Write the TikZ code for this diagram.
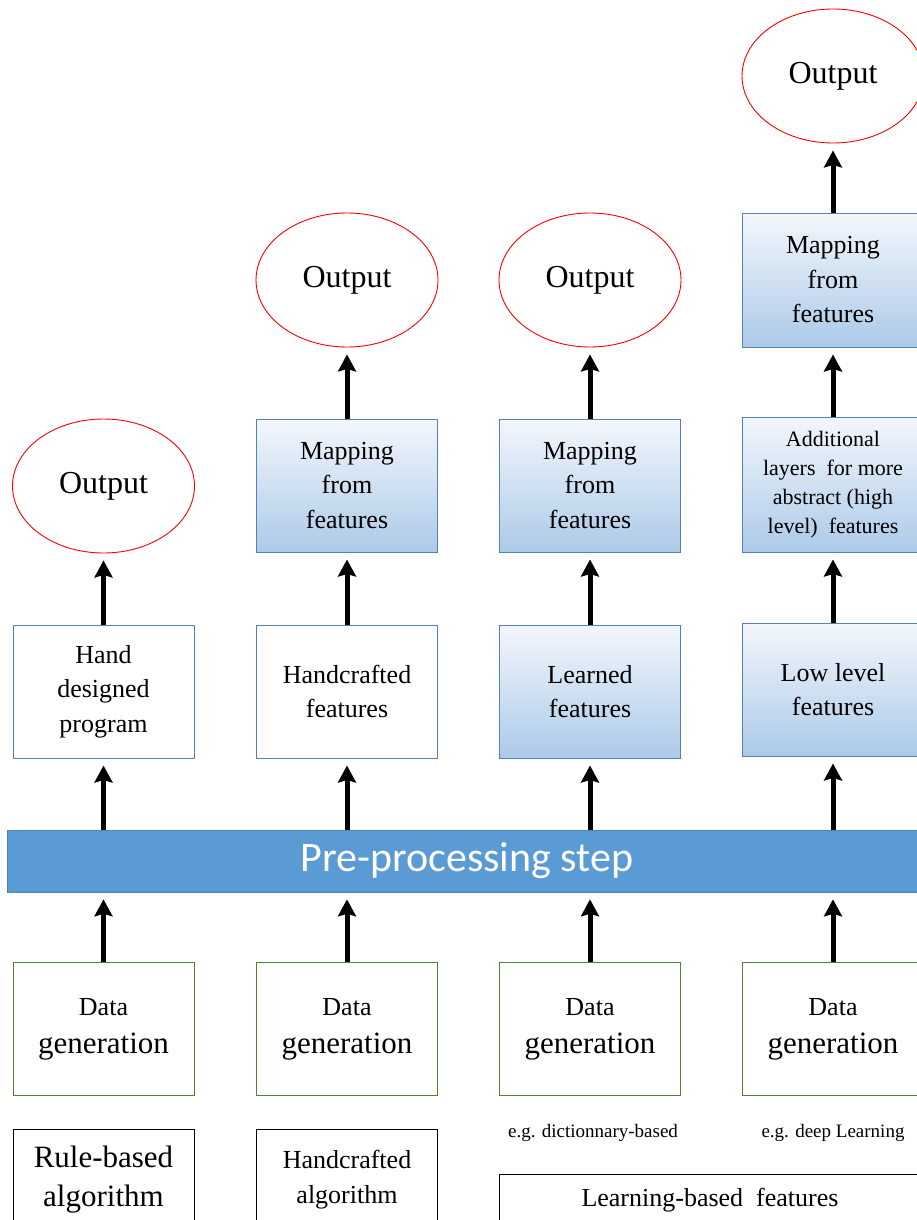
\documentclass[tikz,border=0pt]{standalone}
\usepackage{fontspec}
\setmainfont{Liberation Serif}
\newfontfamily\calibri{Carlito}
\usepackage{tikz}
\usetikzlibrary{arrows,arrows.meta,shapes}
\definecolor{boxblue}{RGB}{84,128,185}
\definecolor{gradtop}{RGB}{243,247,252}
\definecolor{gradbot}{RGB}{172,202,232}
\definecolor{datagreen}{RGB}{84,130,53}
\definecolor{barblue}{RGB}{91,155,213}
\begin{document}
\begin{tikzpicture}[x=1pt,y=-1pt,->,>={Stealth[length=17pt,width=18pt,inset=2.5pt]},
shorten >=7pt,every edge/.append style={line width=5pt}]
\tikzstyle{outell}=[ellipse,draw=red,line width=0.9pt,fill=white,minimum width=182pt,
minimum height=134pt,inner sep=0pt,font=\fontsize{32}{37}\selectfont]
\tikzstyle{plainbox}=[rectangle,draw=boxblue,line width=1pt,fill=white,minimum width=181pt,
minimum height=133pt,inner sep=0pt,align=center,font=\fontsize{26}{34.5}\selectfont]
\tikzstyle{gradbox}=[plainbox,top color=gradtop,bottom color=gradbot]
\tikzstyle{databox}=[plainbox,draw=datagreen,font=\fontsize{26}{38}\selectfont]
\tikzstyle{algobox}=[rectangle,draw=black,line width=1pt,minimum width=181pt,
minimum height=101pt,inner sep=0pt,align=center]
\path[use as bounding box,clip] (0,0) rectangle (917,1220);
% outputs
\node[outell] (o1) at (103.5,486) {Output};
\node[outell] (o2) at (347,280) {Output};
\node[outell] (o3) at (590,280) {Output};
\node[outell] (o4) at (833,76) {Output};
% features and mappings
\node[plainbox] (p1) at (103.5,691.5) {Hand\\designed\\program};
\node[plainbox] (f2) at (347,691.5) {Handcrafted\\features};
\node[gradbox] (f3) at (590,691.5) {Learned\\features};
\node[gradbox] (f4) at (833,689.5) {Low level\\features};
\node[gradbox] (m2) at (347,485.5) {Mapping\\from\\features};
\node[gradbox] (m3) at (590,485.5) {Mapping\\from\\features};
\node[gradbox,minimum height=135pt,font=\fontsize{22}{29}\selectfont] (a4) at (833,484.5)
  {Additional\\layers~ for more\\abstract (high\\level)~ features};
\node[gradbox,minimum height=134pt] (m4) at (833,280) {Mapping\\from\\features};
% pre-processing
\node[rectangle,fill=barblue,draw=barblue!85!black,line width=0.6pt,minimum width=920pt,
minimum height=62pt,inner sep=0pt,text=white,font=\calibri\fontsize{42}{44}\selectfont]
  (pre) at (467,861) {Pre-processing step};
% data
\node[databox] (d1) at (103.5,1029) {Data\\{\fontsize{31}{38}\selectfont generation}};
\node[databox] (d2) at (347,1029) {Data\\{\fontsize{31}{38}\selectfont generation}};
\node[databox] (d3) at (590,1029) {Data\\{\fontsize{31}{38}\selectfont generation}};
\node[databox] (d4) at (833,1029) {Data\\{\fontsize{31}{38}\selectfont generation}};
% methods
\node[algobox,font=\fontsize{31}{39}\selectfont] (r1) at (103.5,1179.5) {Rule-based\\algorithm};
\node[algobox,font=\fontsize{26}{35}\selectfont] (r2) at (347,1179.5) {Handcrafted\\algorithm};
\node[font=\fontsize{19}{22}\selectfont] (e3) at (593,1133) {e.g. dictionnary-based};
\node[font=\fontsize{19}{22}\selectfont] (e4) at (833,1133) {e.g. deep Learning};
\node[algobox,minimum width=422pt,minimum height=52pt,font=\fontsize{26}{30}\selectfont]
  (lb) at (710,1200) {Learning-based~ features};
\path (d1) edge (d1 |- pre.south)
      (d2) edge (d2 |- pre.south)
      (d3) edge (d3 |- pre.south)
      (d4) edge (d4 |- pre.south)
      (pre.north -| p1) edge (p1)
      (pre.north -| f2) edge (f2)
      (pre.north -| f3) edge (f3)
      (pre.north -| f4) edge (f4)
      (p1) edge (o1)
      (f2) edge (m2)
      (m2) edge (o2)
      (f3) edge (m3)
      (m3) edge (o3)
      (f4) edge (a4)
      (a4) edge (m4)
      (m4) edge (o4);
\end{tikzpicture}
\end{document}
